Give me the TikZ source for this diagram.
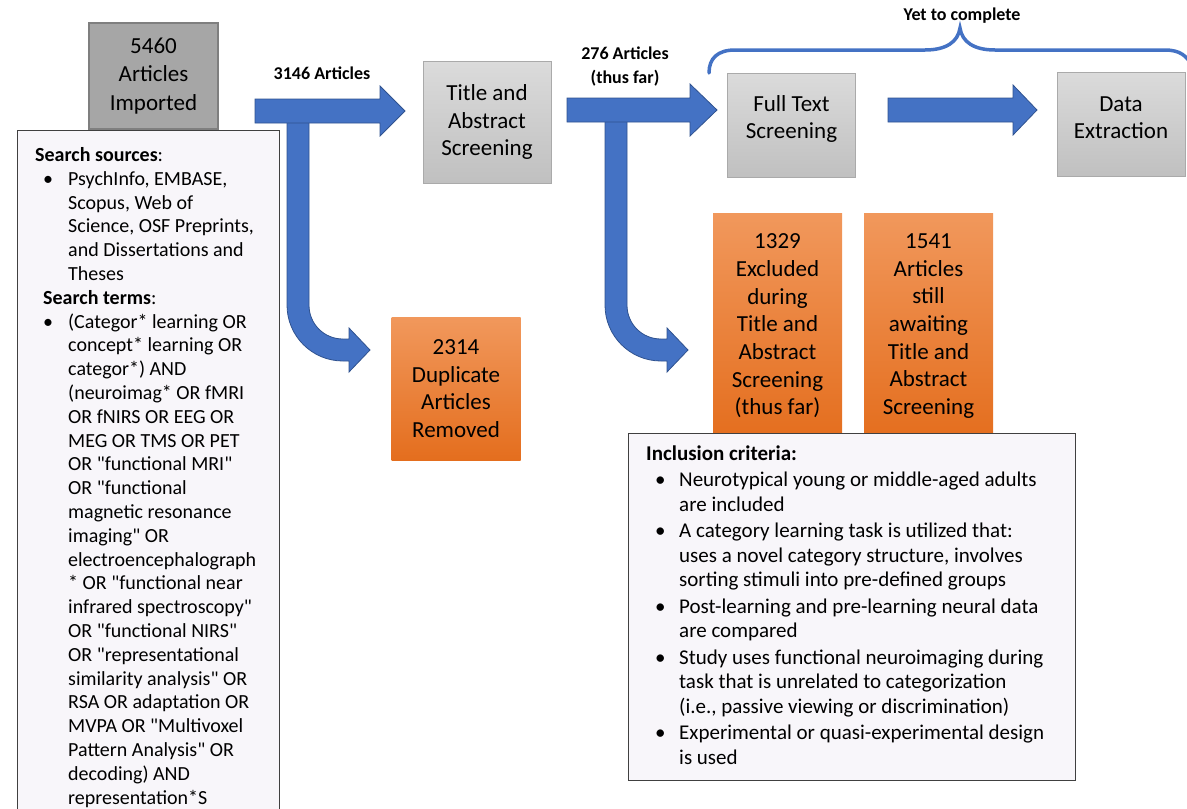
\documentclass[tikz,border=0pt]{standalone}
\usepackage{fontspec}
\setmainfont{Carlito}[Ligatures=TeXOff]
\usetikzlibrary{positioning}
\definecolor{ArrowBlue}{RGB}{68,114,196}
\definecolor{ArrowEdge}{RGB}{47,82,143}
\definecolor{FillImport}{RGB}{166,166,166}
\definecolor{EdgeImport}{RGB}{127,127,127}
\definecolor{GrayTop}{RGB}{219,219,219}
\definecolor{GrayBot}{RGB}{192,192,192}
\definecolor{GrayEdge}{RGB}{170,170,170}
\definecolor{OrangeTop}{RGB}{241,152,92}
\definecolor{OrangeBot}{RGB}{228,110,30}
\definecolor{NoteFill}{RGB}{248,246,250}
\definecolor{NoteEdge}{RGB}{64,64,64}

\begin{document}
\begin{tikzpicture}[x=1pt, y=-1pt,
    source/.style={draw=EdgeImport, line width=1.2pt, fill=FillImport, minimum width=129pt, minimum height=106pt, align=center, inner sep=0pt, font=\fontsize{23}{28.5}\selectfont},
    stage/.style={draw=GrayEdge, line width=0.8pt, top color=GrayTop, bottom color=GrayBot, minimum width=128pt, align=center, inner sep=0pt, font=\fontsize{23}{27.5}\selectfont},
    stagetext/.style={align=center, inner sep=0pt, font=\fontsize{23}{27}\selectfont},
    outcome/.style={top color=OrangeTop, bottom color=OrangeBot, minimum width=129pt, align=center, inner sep=0pt, font=\fontsize{23}{27.7}\selectfont},
    note/.style={draw=NoteEdge, line width=1pt, fill=NoteFill, anchor=north west, inner sep=0pt},
    count/.style={align=center, inner sep=0pt, font=\fontsize{18}{24}\selectfont\bfseries},
    blockarrow/.style={fill=ArrowBlue, draw=ArrowEdge, line width=0.8pt},
    brace/.style={draw=ArrowBlue, line width=3.5pt, line cap=round}
  ]
  \useasboundingbox (0,0) rectangle (1187,809);

  % downward branches (behind the main arrows)
  \draw[blockarrow] (287,121) -- (287,305) .. controls (287,336) and (312,361) .. (343,361)
    -- (349,361) -- (349,372) -- (370,350) -- (349,328) -- (349,339) -- (343,339)
    .. controls (324,339) and (309,324) .. (309,305) -- (309,121) -- cycle;
  \draw[blockarrow] (605,120) -- (605,305) .. controls (605,336) and (630,361) .. (661,361)
    -- (667,361) -- (667,372) -- (688,350) -- (667,328) -- (667,339) -- (661,339)
    .. controls (642,339) and (627,324) .. (627,305) -- (627,120) -- cycle;

  % main flow
  \draw[blockarrow] (255,99) -- (380,99) -- (380,86) -- (405,111) -- (380,136) -- (380,123) -- (255,123) -- cycle;
  \draw[blockarrow] (567,98) -- (690,98) -- (690,84) -- (717,110) -- (690,136) -- (690,122) -- (567,122) -- cycle;
  \draw[blockarrow] (888,98) -- (1013,98) -- (1013,85) -- (1037,110) -- (1013,135) -- (1013,122) -- (888,122) -- cycle;

  \node[source] (imported) at (153.5,76) {\rule{0pt}{2pt}5460\\Articles\\Imported};
  \node[stage, minimum height=122pt] (titlescr) at (487,122) {Title and\\Abstract\\Screening};
  \node[stage, minimum height=104pt] (fulltext) at (791.5,125) {};
  \node[stagetext] (fulltext-text) at ([yshift=6pt]fulltext.center) {Full Text\\Screening};
  \node[stage, minimum height=104pt] (extract) at (1121,124) {};
  \node[stagetext] (extract-text) at ([yshift=6.5pt]extract.center) {Data\\Extraction};

  \node[outcome, minimum height=143pt] (duplicates) at (456,388.5) {2314\\Duplicate\\Articles\\Removed};
  \node[outcome, minimum height=226pt] (excluded) at (777.5,326) {1329\\Excluded\\during\\Title and\\Abstract\\Screening\\(thus far)};
  \node[outcome, minimum height=226pt] (awaiting) at (928.5,326) {1541\\Articles\\still\\awaiting\\Title and\\Abstract\\Screening};

  \node[count] (imported-n) at (322,73) {3146 Articles};
  \node[count] (screened-n) at (625,67) {276 Articles\\(thus far)};

  % bracket over the remaining steps
  \draw[brace] (709,73) .. controls (709,58) and (718,50) .. (735,50) -- (925,50)
    .. controls (946,50) and (958,42) .. (960,28)
    .. controls (962,42) and (974,50) .. (995,50) -- (1165,50)
    .. controls (1180,50) and (1187,56) .. (1192,66);
  \node[count] (pending) at (962,16) {Yet to complete};

  % search notes
  \node[note, minimum width=262pt, minimum height=690pt] (sources) at (17,130) {};
  \node[anchor=base west, inner sep=0pt, font=\fontsize{20}{23.8}\selectfont] (sourcelist) at (35,161.5) {%
    \begin{tabular}[t]{@{}p{33pt}@{}l@{}}
      \multicolumn{2}{@{}l@{}}{\textbf{Search sources}:}\\
      \hspace*{8pt}\textbullet & PsychInfo, EMBASE,\\
      & Scopus, Web of\\
      & Science, OSF Preprints,\\
      & and Dissertations and\\
      & Theses\\
      \multicolumn{2}{@{}l@{}}{\hspace*{8pt}\textbf{Search terms}:}\\
      \hspace*{8pt}\textbullet & (Categor* learning OR\\
      & concept* learning OR\\
      & categor*) AND\\
      & (neuroimag* OR fMRI\\
      & OR fNIRS OR EEG OR\\
      & MEG OR TMS OR PET\\
      & OR "functional MRI"\\
      & OR "functional\\
      & magnetic resonance\\
      & imaging" OR\\
      & electroencephalograph\\
      & * OR "functional near\\
      & infrared spectroscopy"\\
      & OR "functional NIRS"\\
      & OR "representational\\
      & similarity analysis" OR\\
      & RSA OR adaptation OR\\
      & MVPA OR "Multivoxel\\
      & Pattern Analysis" OR\\
      & decoding) AND\\
      & representation*S
    \end{tabular}};

  \node[note, minimum width=447pt, minimum height=347pt] (criteria) at (628,433) {};
  \node[anchor=base west, inner sep=0pt, font=\fontsize{21}{24.5}\selectfont] (criterialist) at (646,460) {%
    \begin{tabular}[t]{@{}p{33pt}@{}l@{}}
      \multicolumn{2}{@{}l@{}}{\textbf{Inclusion criteria:}}\\[2pt]
      \hspace*{9pt}\textbullet & Neurotypical young or middle-aged adults\\
      & are included\\[2pt]
      \hspace*{9pt}\textbullet & A category learning task is utilized that:\\
      & uses a novel category structure, involves\\
      & sorting stimuli into pre-defined groups\\[2pt]
      \hspace*{9pt}\textbullet & Post-learning and pre-learning neural data\\
      & are compared\\[2pt]
      \hspace*{9pt}\textbullet & Study uses functional neuroimaging during\\
      & task that is unrelated to categorization\\
      & (i.e., passive viewing or discrimination)\\[2pt]
      \hspace*{9pt}\textbullet & Experimental or quasi-experimental design\\
      & is used
    \end{tabular}};
\end{tikzpicture}
\end{document}
